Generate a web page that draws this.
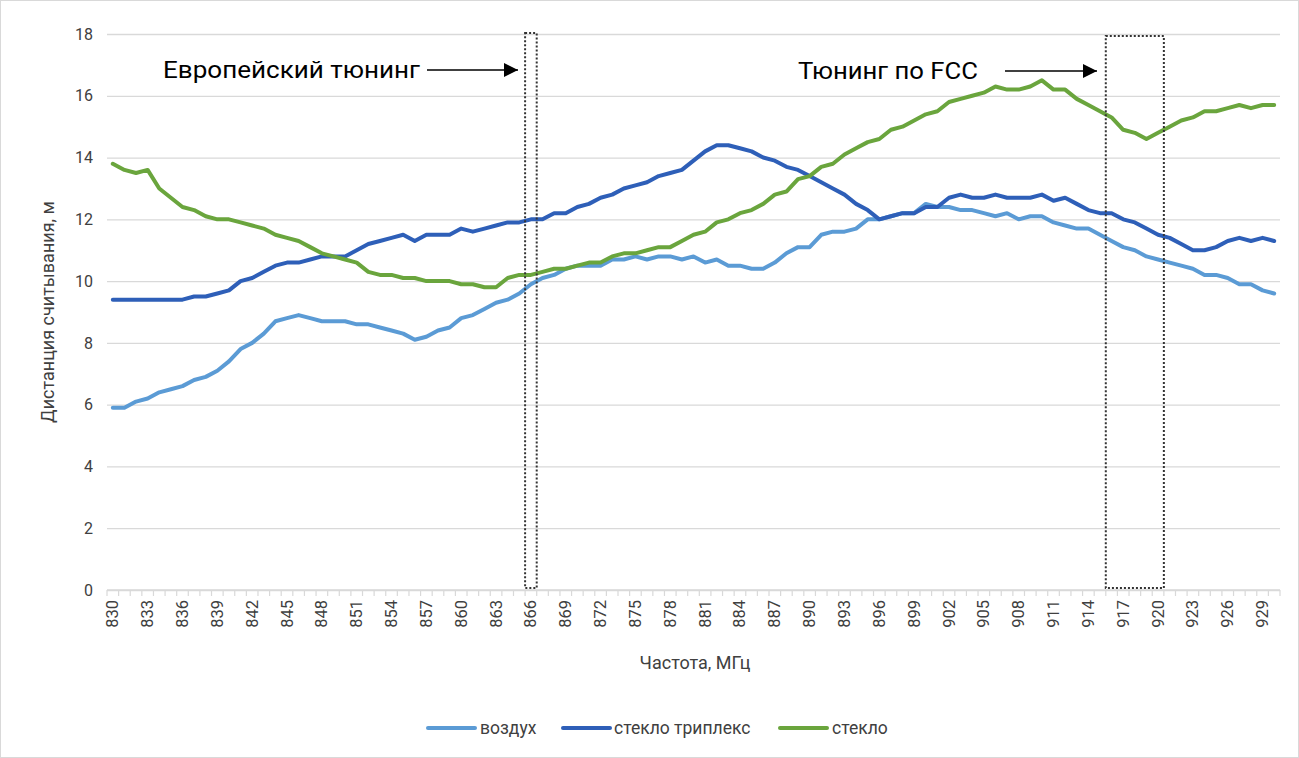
<!DOCTYPE html>
<html>
<head>
<meta charset="utf-8">
<script src="https://cdn.jsdelivr.net/npm/d3@7"></script>
<style>
  body { margin: 0; background: #fff; }
  text { font-family: Roboto, 'Noto Sans', sans-serif; }
</style>
</head>
<body>
<div id="main"></div>
<script>
// set up the sizes
const W = 1299;
const H = 758;
const PLOT = { left: 107, right: 1280, top: 34, bottom: 590 };

// data
const frequencies = d3.range(830, 931);
const tickLabels = d3.range(830, 931, 3);
const yTicks = [0, 2, 4, 6, 8, 10, 12, 14, 16, 18];

const air = [
  5.9, 5.9, 6.1, 6.2, 6.4, 6.5, 6.6, 6.8, 6.9, 7.1,
  7.4, 7.8, 8.0, 8.3, 8.7, 8.8, 8.9, 8.8, 8.7, 8.7,
  8.7, 8.6, 8.6, 8.5, 8.4, 8.3, 8.1, 8.2, 8.4, 8.5,
  8.8, 8.9, 9.1, 9.3, 9.4, 9.6, 9.9, 10.1, 10.2, 10.4,
  10.5, 10.5, 10.5, 10.7, 10.7, 10.8, 10.7, 10.8, 10.8, 10.7,
  10.8, 10.6, 10.7, 10.5, 10.5, 10.4, 10.4, 10.6, 10.9, 11.1,
  11.1, 11.5, 11.6, 11.6, 11.7, 12.0, 12.0, 12.1, 12.2, 12.2,
  12.5, 12.4, 12.4, 12.3, 12.3, 12.2, 12.1, 12.2, 12.0, 12.1,
  12.1, 11.9, 11.8, 11.7, 11.7, 11.5, 11.3, 11.1, 11.0, 10.8,
  10.7, 10.6, 10.5, 10.4, 10.2, 10.2, 10.1, 9.9, 9.9, 9.7,
  9.6
];

const triplex = [
  9.4, 9.4, 9.4, 9.4, 9.4, 9.4, 9.4, 9.5, 9.5, 9.6,
  9.7, 10.0, 10.1, 10.3, 10.5, 10.6, 10.6, 10.7, 10.8, 10.8,
  10.8, 11.0, 11.2, 11.3, 11.4, 11.5, 11.3, 11.5, 11.5, 11.5,
  11.7, 11.6, 11.7, 11.8, 11.9, 11.9, 12.0, 12.0, 12.2, 12.2,
  12.4, 12.5, 12.7, 12.8, 13.0, 13.1, 13.2, 13.4, 13.5, 13.6,
  13.9, 14.2, 14.4, 14.4, 14.3, 14.2, 14.0, 13.9, 13.7, 13.6,
  13.4, 13.2, 13.0, 12.8, 12.5, 12.3, 12.0, 12.1, 12.2, 12.2,
  12.4, 12.4, 12.7, 12.8, 12.7, 12.7, 12.8, 12.7, 12.7, 12.7,
  12.8, 12.6, 12.7, 12.5, 12.3, 12.2, 12.2, 12.0, 11.9, 11.7,
  11.5, 11.4, 11.2, 11.0, 11.0, 11.1, 11.3, 11.4, 11.3, 11.4,
  11.3
];

const glass = [
  13.8, 13.6, 13.5, 13.6, 13.0, 12.7, 12.4, 12.3, 12.1, 12.0,
  12.0, 11.9, 11.8, 11.7, 11.5, 11.4, 11.3, 11.1, 10.9, 10.8,
  10.7, 10.6, 10.3, 10.2, 10.2, 10.1, 10.1, 10.0, 10.0, 10.0,
  9.9, 9.9, 9.8, 9.8, 10.1, 10.2, 10.2, 10.3, 10.4, 10.4,
  10.5, 10.6, 10.6, 10.8, 10.9, 10.9, 11.0, 11.1, 11.1, 11.3,
  11.5, 11.6, 11.9, 12.0, 12.2, 12.3, 12.5, 12.8, 12.9, 13.3,
  13.4, 13.7, 13.8, 14.1, 14.3, 14.5, 14.6, 14.9, 15.0, 15.2,
  15.4, 15.5, 15.8, 15.9, 16.0, 16.1, 16.3, 16.2, 16.2, 16.3,
  16.5, 16.2, 16.2, 15.9, 15.7, 15.5, 15.3, 14.9, 14.8, 14.6,
  14.8, 15.0, 15.2, 15.3, 15.5, 15.5, 15.6, 15.7, 15.6, 15.7,
  15.7
];

const seriesNames = ['воздух', 'стекло триплекс', 'стекло'];
const seriesColors = ['#5b9bd5', '#2e5fb8', '#6aa53d'];

// annotated frequency ranges (dotted boxes)
const zones = [
  { label: 'Европейский тюнинг', from: 866, to: 866 },
  { label: 'Тюнинг по FCC', from: 916, to: 920 }
];

const svg = d3
  .select('div#main')
  .append('svg')
  .attr('width', W)
  .attr('height', H);

// outer frame
svg
  .append('rect')
  .attr('x', 0.5)
  .attr('y', 0.5)
  .attr('width', W - 1)
  .attr('height', H - 1)
  .attr('fill', '#fff')
  .attr('stroke', '#d9d9d9');

// scalers
const xBand = d3
  .scaleBand()
  .domain(frequencies)
  .range([PLOT.left, PLOT.right]);

const xScale = (d) => xBand(d) + xBand.bandwidth() / 2;

const yScale = d3
  .scaleLinear()
  .domain([0, 18])
  .range([PLOT.bottom, PLOT.top]);

// gridlines + y labels
const yAxisGroup = svg
  .append('g')
  .attr('transform', `translate(${PLOT.left},0)`)
  .call(
    d3
      .axisLeft(yScale)
      .tickValues(yTicks)
      .tickSize(-(PLOT.right - PLOT.left))
      .tickPadding(14)
  );

yAxisGroup.select('.domain').remove();
yAxisGroup.selectAll('.tick line').attr('stroke', '#d9d9d9').attr('stroke-width', 1.3);
yAxisGroup
  .selectAll('.tick text')
  .attr('fill', '#404040')
  .style('font-size', '16px');

// x axis: minor tick at every band edge, labels every 3rd
const edges = frequencies.map((d) => xBand(d)).concat([PLOT.right]);

const xAxisGroup = svg.append('g').attr('id', 'x-axis');

xAxisGroup
  .append('line')
  .attr('x1', PLOT.left)
  .attr('x2', PLOT.right)
  .attr('y1', PLOT.bottom)
  .attr('y2', PLOT.bottom)
  .attr('stroke', '#d9d9d9')
  .attr('stroke-width', 1.3);

xAxisGroup
  .selectAll('.minor')
  .data(edges)
  .enter()
  .append('line')
  .attr('x1', (d) => d)
  .attr('x2', (d) => d)
  .attr('y1', PLOT.bottom)
  .attr('y2', PLOT.bottom + 6)
  .attr('stroke', '#d9d9d9')
  .attr('stroke-width', 1.2);

xAxisGroup
  .selectAll('.xlabel')
  .data(tickLabels)
  .enter()
  .append('text')
  .attr('text-anchor', 'end')
  .attr('dominant-baseline', 'central')
  .attr('transform', (d) => `translate(${xScale(d)},${PLOT.bottom + 10}) rotate(-90)`)
  .attr('fill', '#404040')
  .style('font-size', '16.5px')
  .text((d) => d);

// axis titles
svg
  .append('text')
  .attr('text-anchor', 'middle')
  .attr('x', 695)
  .attr('y', 669)
  .attr('fill', '#404040')
  .style('font-size', '18px')
  .text('Частота, МГц');

svg
  .append('text')
  .attr('text-anchor', 'middle')
  .attr('transform', `translate(54,${(PLOT.top + PLOT.bottom) / 2}) rotate(-90)`)
  .attr('fill', '#404040')
  .style('font-size', '18px')
  .text('Дистанция считывания, м');

// series lines
const lineGen = d3
  .line()
  .x((d, i) => xScale(frequencies[i]))
  .y((d) => yScale(d));

const allSeries = [air, triplex, glass];

svg
  .selectAll('.series')
  .data(allSeries)
  .enter()
  .append('path')
  .attr('class', 'series')
  .attr('fill', 'none')
  .attr('stroke', (d, i) => seriesColors[i])
  .attr('stroke-width', 4)
  .attr('stroke-linejoin', 'round')
  .attr('stroke-linecap', 'round')
  .attr('d', lineGen);

// dotted boxes
svg
  .selectAll('.zone')
  .data(zones)
  .enter()
  .append('rect')
  .attr('class', 'zone')
  .attr('x', (d) => xBand(d.from))
  .attr('y', (d, i) => (i === 0 ? 33 : 36))
  .attr('width', (d) => xBand(d.to) + xBand.bandwidth() - xBand(d.from))
  .attr('height', (d, i) => (i === 0 ? 555 : 552))
  .attr('fill', 'none')
  .attr('stroke', '#333')
  .attr('stroke-width', 2)
  .attr('stroke-dasharray', '2,2');

// annotation text + arrows
const defs = svg.append('defs');
defs
  .append('marker')
  .attr('id', 'arrow')
  .attr('viewBox', '0 0 10 10')
  .attr('refX', 10)
  .attr('refY', 5)
  .attr('markerWidth', 14)
  .attr('markerHeight', 14)
  .attr('markerUnits', 'userSpaceOnUse')
  .attr('orient', 'auto')
  .append('path')
  .attr('d', 'M0,0 L10,5 L0,10 Z')
  .attr('fill', '#000');

const notes = [
  { x: 163, w: 257, y: 70, ax1: 427, ax2: 518 },
  { x: 798, w: 180, y: 71, ax1: 1005, ax2: 1097 }
];

notes.forEach((n, i) => {
  svg
    .append('text')
    .attr('x', n.x)
    .attr('y', n.y)
    .attr('dominant-baseline', 'central')
    .attr('fill', '#000')
    .attr('textLength', n.w)
    .attr('lengthAdjust', 'spacingAndGlyphs')
    .style('font-size', '23px')
    .text(zones[i].label);

  svg
    .append('line')
    .attr('x1', n.ax1)
    .attr('x2', n.ax2)
    .attr('y1', n.y)
    .attr('y2', n.y)
    .attr('stroke', '#000')
    .attr('stroke-width', 1.3)
    .attr('marker-end', 'url(#arrow)');
});

// legend
const legendItems = [
  { x: 428, tx: 480 },
  { x: 563, tx: 614 },
  { x: 780, tx: 832 }
];

const legend = svg.append('g').attr('id', 'legend');

legendItems.forEach((item, i) => {
  legend
    .append('line')
    .attr('x1', item.x)
    .attr('x2', item.x + 47)
    .attr('y1', 728)
    .attr('y2', 728)
    .attr('stroke', seriesColors[i])
    .attr('stroke-width', 4)
    .attr('stroke-linecap', 'round');

  legend
    .append('text')
    .attr('x', item.tx)
    .attr('y', 728)
    .attr('dominant-baseline', 'central')
    .attr('fill', '#404040')
    .style('font-size', '17.5px')
    .text(seriesNames[i]);
});
</script>
</body>
</html>
